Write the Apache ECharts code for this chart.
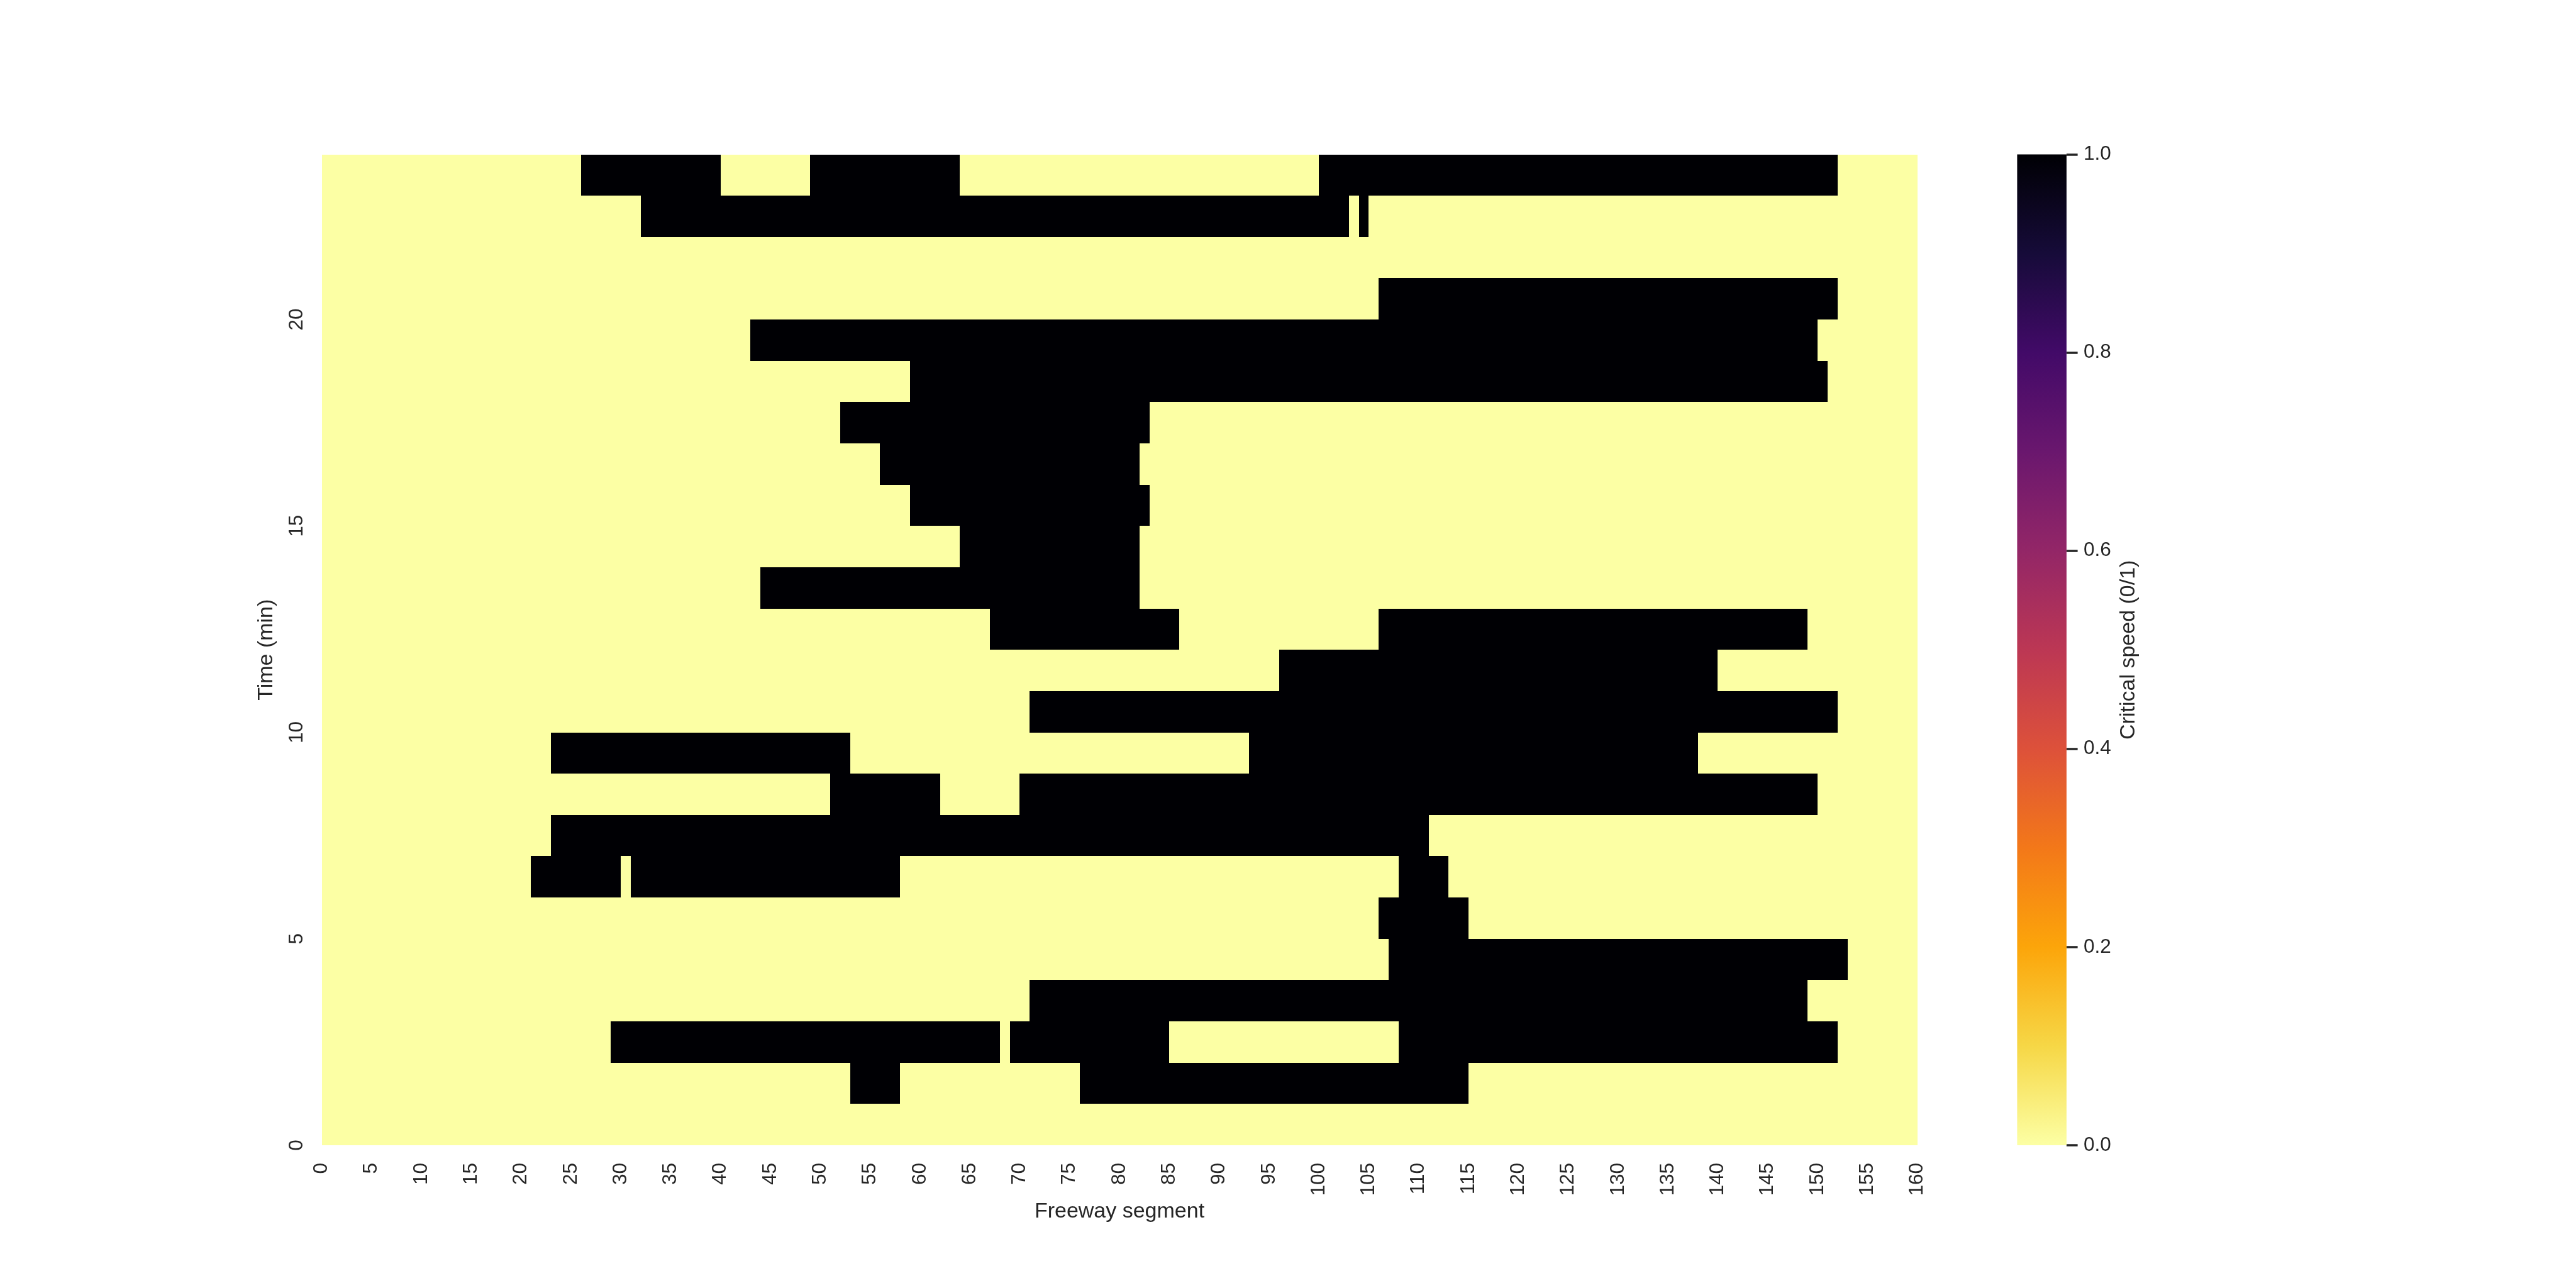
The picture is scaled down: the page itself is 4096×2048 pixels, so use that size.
<!DOCTYPE html>
<html>
<head>
<meta charset="utf-8">
<script src="https://cdn.jsdelivr.net/npm/echarts@6/dist/echarts.min.js"></script>
<style>
  html, body { margin: 0; padding: 0; background: #ffffff; }
  #chart { width: 4096px; height: 2048px; }
</style>
</head>
<body>
<div id="chart"></div>
<script>
// ---- Data ----
const segmentCount = 160;   // freeway segments 0..159
const timeCount = 24;       // time steps 0..23 (min)
// Black (critical = 1) runs of segments per time step, inclusive [first, last]
const criticalRuns = [
  /* t=0  */ [],
  /* t=1  */ [[53, 57], [76, 114]],
  /* t=2  */ [[29, 67], [69, 84], [108, 151]],
  /* t=3  */ [[71, 148]],
  /* t=4  */ [[107, 152]],
  /* t=5  */ [[106, 114]],
  /* t=6  */ [[21, 29], [31, 57], [108, 112]],
  /* t=7  */ [[23, 110]],
  /* t=8  */ [[51, 61], [70, 149]],
  /* t=9  */ [[23, 52], [93, 137]],
  /* t=10 */ [[71, 151]],
  /* t=11 */ [[96, 139]],
  /* t=12 */ [[67, 85], [106, 148]],
  /* t=13 */ [[44, 81]],
  /* t=14 */ [[64, 81]],
  /* t=15 */ [[59, 82]],
  /* t=16 */ [[56, 81]],
  /* t=17 */ [[52, 82]],
  /* t=18 */ [[59, 150]],
  /* t=19 */ [[43, 149]],
  /* t=20 */ [[106, 151]],
  /* t=21 */ [],
  /* t=22 */ [[32, 102], [104, 104]],
  /* t=23 */ [[26, 39], [49, 63], [100, 151]]
];
const xTickStep = 5;
const yTickStep = 5;
const colorbarTickStep = 0.2;
// inferno colormap reversed (value 0 -> pale yellow, value 1 -> black)
const infernoR = ['#fcffa4', '#f6d746', '#fca50a', '#f37819', '#dd513a', '#bc3754',
                  '#932667', '#6a176e', '#420a68', '#160b39', '#000004'];

// ---- Build cell table ----
const cells = [];
for (let t = 0; t < timeCount; t++) {
  for (let s = 0; s < segmentCount; s++) {
    const on = criticalRuns[t].some(r => s >= r[0] && s <= r[1]) ? 1 : 0;
    cells.push([s, t, on]);
  }
}

const FONT = "'Liberation Sans', Arial, sans-serif";
const TXT = '#262626';

const gridMain = { left: 511.5, top: 245.5, width: 2537, height: 1575.5 };
const gridBar = { left: 3207.4, top: 245.5, width: 78.5, height: 1575.5 };

const chart = echarts.init(document.getElementById('chart'), null, { renderer: 'canvas' });

const option = {
  animation: false,
  backgroundColor: '#ffffff',
  textStyle: { fontFamily: FONT },
  grid: [
    Object.assign({ containLabel: false }, gridMain),
    Object.assign({ containLabel: false }, gridBar)
  ],
  visualMap: {
    type: 'continuous',
    show: false,
    seriesIndex: 0,
    dimension: 2,
    min: 0,
    max: 1,
    inRange: { color: infernoR }
  },
  xAxis: [
    {
      type: 'value', gridIndex: 0, min: 0, max: segmentCount, interval: xTickStep,
      name: 'Freeway segment', nameLocation: 'middle', nameGap: 86,
      nameTextStyle: { fontSize: 34, color: TXT, fontFamily: FONT },
      axisLine: { show: false, onZero: false }, axisTick: { show: false }, splitLine: { show: false },
      axisLabel: { rotate: 90, fontSize: 31.5, color: TXT, margin: 28, fontFamily: FONT,
                   showMinLabel: true, showMaxLabel: true }
    },
    {
      type: 'value', gridIndex: 1, min: 0, max: 1, show: false,
      axisLine: { show: false, onZero: false }
    }
  ],
  yAxis: [
    {
      type: 'value', gridIndex: 0, min: 0, max: timeCount, interval: yTickStep,
      name: 'Time (min)', nameLocation: 'middle', nameGap: 71, nameRotate: 90,
      nameTextStyle: { fontSize: 34, color: TXT, fontFamily: FONT },
      axisLine: { show: false, onZero: false }, axisTick: { show: false }, splitLine: { show: false },
      axisLabel: { rotate: 90, fontSize: 31.5, color: TXT, margin: 23, fontFamily: FONT,
                   formatter: v => (v % yTickStep === 0 ? String(v) : '') }
    },
    {
      type: 'value', gridIndex: 1, min: 0, max: 1, interval: colorbarTickStep, position: 'right',
      name: 'Critical speed (0/1)', nameLocation: 'middle', nameGap: 82, nameRotate: 90,
      nameTextStyle: { fontSize: 34, color: TXT, fontFamily: FONT },
      axisLine: { show: false, onZero: false },
      axisTick: { show: true, inside: false, length: 17.7, lineStyle: { color: TXT, width: 3.5 } },
      splitLine: { show: false },
      axisLabel: { fontSize: 31.5, color: TXT, margin: 27, fontFamily: FONT,
                   formatter: v => v.toFixed(1) }
    }
  ],
  series: [
    {
      type: 'custom',
      xAxisIndex: 0, yAxisIndex: 0,
      silent: true,
      data: cells,
      encode: { x: 0, y: 1 },
      renderItem: function (params, api) {
        const s = api.value(0), t = api.value(1);
        const p0 = api.coord([s, t + 1]);
        const p1 = api.coord([s + 1, t]);
        const x0 = Math.round(p0[0]), y0 = Math.round(p0[1]);
        const x1 = Math.round(p1[0]), y1 = Math.round(p1[1]);
        return {
          type: 'rect',
          shape: { x: x0, y: y0, width: x1 - x0, height: y1 - y0 },
          style: { fill: api.visual('color') }
        };
      }
    },
    {
      type: 'custom',
      xAxisIndex: 1, yAxisIndex: 1,
      silent: true,
      z: 1,
      data: [[0, 0]],
      renderItem: function (params, api) {
        const p0 = api.coord([0, 1]);
        const p1 = api.coord([1, 0]);
        const stops = infernoR.slice().reverse().map((c, i, arr) => ({ offset: i / (arr.length - 1), color: c }));
        return {
          type: 'rect',
          shape: { x: p0[0], y: p0[1], width: p1[0] - p0[0], height: p1[1] - p0[1] },
          style: { fill: new echarts.graphic.LinearGradient(0, 0, 0, 1, stops) }
        };
      }
    }
  ]
};

chart.setOption(option);
</script>
</body>
</html>
